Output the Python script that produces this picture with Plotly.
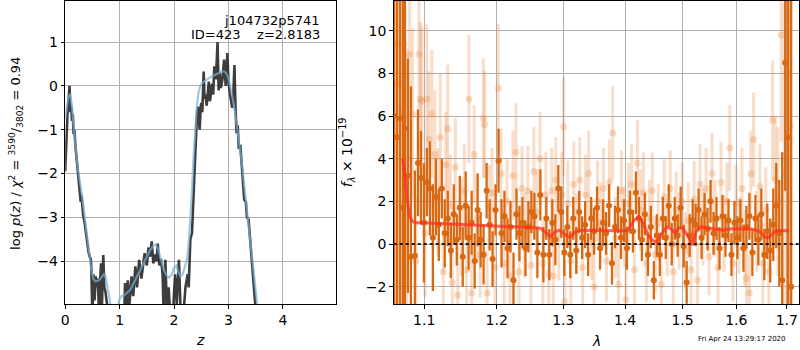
import plotly.graph_objects as go

# ---------------- left panel: p(z) ----------------
z_pz = [0.000,0.015,0.03,0.045,0.06,0.08,0.095,0.11,0.125,0.14,0.155,0.17,0.19,0.21,0.23,0.25,0.27,0.285,0.30,0.315,
        0.33,0.36,0.40,0.43,0.45,0.47,0.48,0.50,0.52,0.54,0.56,0.58,0.60,0.62,0.64,0.66,0.67,0.69,0.70,0.72,
        0.74,0.77,0.79,0.85,1.00,1.08,1.10,1.12,1.15,1.18,1.22,1.25,1.29,1.32,1.36,1.40,1.44,1.46,1.50,1.53,
        1.56,1.59,1.62,1.65,1.68,1.70,1.73,1.76,1.79,1.81,1.84,1.87,1.90,1.93,1.98,2.02,2.05,2.09,2.12,2.18,
        2.21,2.25,2.27,2.30,2.33,2.36,2.38,2.40,2.42,2.44,2.46,2.47,2.49,2.50,2.52,2.545,2.56,2.58,2.60,2.62,
        2.64,2.66,2.68,2.70,2.72,2.74,2.77,2.80,2.82,2.84,2.86,2.89,2.92,2.95,2.98,3.00,3.03,3.05,3.07,3.09,
        3.11,3.13,3.15,3.17,3.19,3.22,3.25,3.29,3.32,3.34,3.37,3.40,3.43,3.47,3.50,3.53,3.56]
logp_pz = [-1.95,-1.3,-0.92,-0.55,-0.35,0.0,-0.6,-0.45,-0.8,-0.65,-1.1,-1.0,-1.4,-1.7,-2.0,-2.2,-2.6,-2.65,-2.5,-2.8,
           -2.95,-3.15,-3.55,-3.8,-3.9,-3.95,-4.15,-5.3,-4.3,-4.9,-4.35,-4.6,-4.4,-5.2,-4.45,-4.05,-5.3,-4.2,-3.86,-4.6,
           -4.7,-5.0,-5.5,-6.0,-6.0,-5.5,-4.5,-5.3,-4.44,-5.0,-4.35,-4.8,-4.12,-4.6,-3.97,-4.4,-3.9,-3.82,-4.1,-3.69,
           -3.9,-3.55,-4.05,-3.85,-4.0,-3.6,-4.1,-3.95,-4.3,-5.2,-3.97,-5.1,-4.6,-5.2,-5.2,-4.3,-5.0,-3.97,-5.1,-5.1,
           -4.6,-4.3,-4.6,-3.5,-3.36,-2.4,-1.8,-1.07,-0.7,-0.47,-0.9,-1.0,-0.5,-0.39,-0.6,0.33,-0.3,-0.2,-0.45,-0.08,
           0.1,-0.35,-0.1,0.05,-0.2,0.45,0.15,1.0,-0.1,0.3,-0.05,0.15,0.6,0.0,0.75,0.1,-0.2,-0.4,-0.5,-0.2,
           0.48,-0.5,-1.08,-0.9,-1.4,-1.38,-2.0,-2.6,-2.65,-3.0,-3.05,-3.5,-3.81,-4.45,-5.1,-5.8,-6.5]

z_smooth = [0.0,0.03,0.06,0.09,0.12,0.15,0.18,0.21,0.24,0.27,0.29,0.31,0.34,0.37,0.40,0.44,0.48,0.52,0.56,0.60,
            0.64,0.68,0.72,0.75,0.78,0.82,0.85,0.90,0.95,0.99,1.03,1.08,1.14,1.20,1.26,1.32,1.38,1.44,1.50,1.56,
            1.62,1.66,1.70,1.74,1.78,1.82,1.86,1.91,1.96,2.00,2.04,2.08,2.12,2.16,2.20,2.24,2.27,2.30,2.33,2.36,
            2.39,2.42,2.45,2.48,2.52,2.58,2.64,2.70,2.76,2.82,2.88,2.92,2.96,3.00,3.04,3.08,3.12,3.16,3.20,3.24,
            3.28,3.32,3.36,3.40,3.44,3.48,3.52,3.56]
logp_smooth = [-0.75,-0.45,-0.25,-0.18,-0.4,-0.85,-1.3,-1.65,-1.95,-2.15,-2.3,-2.5,-2.8,-3.1,-3.45,-3.85,-4.2,-4.42,-4.46,-4.45,
               -4.42,-4.35,-4.28,-4.4,-4.62,-4.9,-5.3,-5.6,-5.2,-4.9,-4.8,-4.78,-4.72,-4.65,-4.5,-4.35,-4.2,-4.05,-3.9,-3.75,
               -3.65,-3.62,-3.7,-3.85,-4.05,-4.22,-4.32,-4.38,-4.3,-4.15,-4.1,-4.25,-4.35,-4.3,-4.15,-3.95,-3.6,-3.1,-2.4,-1.6,
               -0.95,-0.45,-0.15,0.0,0.07,0.13,0.18,0.22,0.26,0.3,0.33,0.33,0.29,0.18,-0.05,-0.3,-0.6,-0.95,-1.3,-1.7,
               -2.15,-2.6,-3.05,-3.45,-3.85,-4.35,-4.9,-5.6]

pz_xticks = [0, 1, 2, 3, 4]
pz_yticks = [-4, -3, -2, -1, 0, 1]

# ---------------- right panel: spectrum ----------------
wave_dark = [1.0606,1.0645,1.0684,1.0722,1.0748,1.0787,1.0826,1.0878,1.0918,1.0957,1.0997,1.1036,1.1076,1.1115,1.1155,1.1195,
             1.1235,1.1275,1.1316,1.1357,1.1398,1.1439,1.1480,1.1521,1.1562,1.1603,1.1645,1.1687,1.1729,1.1771,1.1813,1.1856,
             1.1899,1.1941,1.1984,1.2027,1.2070,1.2113,1.2157,1.2201,1.2245,1.2289,1.2333,1.2377,1.2422,1.2466,1.2511,1.2556,
             1.2601,1.2646,1.2692,1.2737,1.2783,1.2829,1.2876,1.2922,1.2968,1.3015,1.3062,1.3109,1.3156,1.3203,1.3250,1.3297,
             1.3345,1.3393,1.3441,1.3489,1.3537,1.3586,1.3635,1.3684,1.3733,1.3782,1.3832,1.3882,1.3932,1.3982,1.4032,1.4082,
             1.4133,1.4184,1.4235,1.4286,1.4337,1.4389,1.4440,1.4492,1.4544,1.4596,1.4649,1.4701,1.4754,1.4807,1.4860,1.4913,
             1.4967,1.5021,1.5075,1.5129,1.5183,1.5238,1.5292,1.5347,1.5402,1.5458,1.5513,1.5569,1.5625,1.5681,1.5737,1.5794,
             1.5851,1.5908,1.5965,1.6022,1.6080,1.6138,1.6196,1.6254,1.6312,1.6371,1.6430,1.6489,1.6548,1.6607,1.6666,1.6727,
             1.6787,1.6847,1.6907,1.6968,1.7029,1.7090]
flux_dark = [6.0,5.0,5.9,1.7,5.4,3.2,-0.6,-0.55,3.8,3.1,1.0,2.9,2.6,0.3,2.2,0.9,
             2.6,0.5,1.2,-0.3,1.4,0.2,1.7,-0.6,1.8,0.3,1.0,-0.8,1.6,0.2,-0.5,2.5,
             0.9,-0.7,1.6,3.9,0.5,1.3,-0.2,0.8,-1.7,1.4,0.5,1.0,-0.2,0.8,1.5,1.3,
             -0.4,2.3,-0.5,1.2,-0.5,1.0,0.2,2.6,1.5,-0.4,0.8,-0.5,1.2,-0.3,1.5,0.3,
             0.9,-0.5,1.2,0.6,1.7,-0.2,1.0,0.5,1.8,-0.9,0.8,1.6,0.3,1.1,-0.2,1.5,
             0.6,2.4,1.2,0.2,1.4,-0.5,0.8,-1.7,0.4,-0.5,1.2,0.3,1.8,0.0,1.2,0.4,
             1.7,-0.1,-1.8,0.4,1.1,0.9,1.6,0.3,1.4,0.7,2.0,0.5,1.2,-0.2,1.3,0.4,
             1.1,-0.5,1.0,0.3,1.1,-0.2,0.8,1.3,-0.4,1.2,0.2,1.4,-0.5,0.6,-0.3,0.9,
             1.8,0.5,-1.7,8.5,5.0,-2.0]
err_dark = [40,40,30,25,14,5.5,8,4,2.5,2.2,2.8,1.6,2.2,2.5,1.8,1.7,
            1.4,1.6,1.3,1.3,1.4,1.2,1.5,1.4,1.6,1.5,1.5,1.3,1.7,1.3,1.4,1.3,
            1.2,1.3,1.2,1.5,1.6,1.2,1.4,1.2,1.3,1.2,1.3,1.2,1.3,1.2,1.0,1.1,
            1.2,1.2,1.3,1.0,1.2,1.1,1.2,1.1,1.2,1.1,1.0,1.1,1.0,1.1,1.0,1.0,
            1.1,1.0,1.0,1.1,1.0,1.0,1.1,1.0,1.0,1.0,1.0,1.1,1.0,1.0,1.0,1.0,
            1.0,1.0,1.0,1.0,1.0,1.0,1.0,0.9,1.0,1.0,1.0,1.0,1.0,1.0,1.0,1.0,
            1.0,1.0,1.0,1.0,1.0,1.0,1.0,1.0,1.0,1.0,1.0,1.0,1.0,1.0,1.0,1.0,
            1.0,1.0,1.0,1.0,1.0,1.1,1.0,1.1,1.1,1.1,1.2,1.2,1.2,1.3,1.5,1.7,
            2.0,2.5,6.0,6.0,30,30]

wave_light = [1.0626,1.0664,1.0703,1.0735,1.0774,1.0807,1.0846,1.0891,1.0931,1.0950,1.0970,1.1010,1.1036,1.1062,1.1102,1.1142,
              1.1182,1.1215,1.1255,1.1288,1.1316,1.1350,1.1377,1.1419,1.1452,1.1500,1.1542,1.1575,1.1607,1.1645,1.1680,1.1722,
              1.1764,1.1809,1.1827,1.1863,1.1892,1.1934,1.1977,1.2023,1.2063,1.2106,1.2150,1.2194,1.2238,1.2282,1.2326,1.2370,
              1.2414,1.2459,1.2504,1.2549,1.2594,1.2639,1.2684,1.2730,1.2775,1.2821,1.2845,1.2883,1.2929,1.2975,1.3004,1.3023,
              1.3070,1.3117,1.3164,1.3211,1.3258,1.3305,1.3353,1.3401,1.3449,1.3489,1.3545,1.3594,1.3643,1.3692,1.3741,1.3794,
              1.3840,1.3890,1.3940,1.3990,1.4015,1.4057,1.4108,1.4159,1.4210,1.4261,1.4312,1.4363,1.4414,1.4466,1.4518,1.4570,
              1.4622,1.4675,1.4728,1.4781,1.4834,1.4887,1.4940,1.4994,1.5048,1.5102,1.5156,1.5210,1.5274,1.5320,1.5375,1.5430,
              1.5485,1.5541,1.5597,1.5653,1.5709,1.5766,1.5822,1.5876,1.5937,1.5994,1.6051,1.6109,1.6167,1.6196,1.6254,1.6283,
              1.6337,1.6400,1.6460,1.6518,1.6577,1.6637,1.6713,1.6766,1.6817,1.6887,1.6948,1.7009,1.7069]
flux_light = [9.4,7.5,6.2,9.4,3.2,8.9,6.1,-0.8,8.9,6.8,6.7,0.5,6.8,4.9,6.1,4.2,
              2.0,5.0,-1.3,3.7,5.4,1.8,-1.8,3.6,-2.4,0.8,2.5,-1.2,6.8,-2.3,4.2,1.2,
              -0.5,5.9,5.6,-2.3,1.7,2.4,-1.1,7.3,3.3,-0.9,2.0,-1.5,3.2,4.3,-1.3,2.6,
              0.4,2.5,-1.0,3.4,1.5,4.0,-0.9,2.3,-1.4,2.5,-1.5,3.0,0.3,2.3,5.5,-2.7,
              1.9,-0.8,2.8,0.5,3.0,-1.1,2.3,3.3,0.2,-2.0,2.0,1.0,2.6,-0.8,2.9,5.2,
              0.3,-1.9,2.5,0.8,-2.6,1.9,2.8,-1.2,3.8,1.6,2.4,-0.9,1.2,2.5,-0.5,1.0,
              -1.9,2.2,0.3,2.6,-1.3,1.6,0.6,2.0,-0.3,1.1,-1.2,2.1,-1.7,2.8,0.8,2.6,
              -0.6,3.3,1.2,-1.1,2.9,0.5,2.0,4.5,-0.9,1.9,0.4,2.6,-0.2,-1.6,-2.3,3.3,
              4.9,0.6,2.7,-0.9,1.6,-1.3,5.8,3.0,2.0,9.8,3.3,8.0,5.5]
err_light = [25,25,12,8,6,5,4,3,3,3.6,3.5,3,3.5,3.2,3,3,
             2.5,3,2.5,2.5,3,2.4,2.2,2.3,2.2,2.3,2.2,2.0,3,2.0,2.3,2.1,
             2.0,2.8,2.5,2.0,2.0,2.1,2.0,3,2.1,2.0,2.0,2.0,2.1,2.3,2.0,2.0,
             2.0,2.1,2.0,2.1,2.0,2.2,2.0,2.0,2.0,2.0,1.9,2.0,2.0,2.0,2.3,1.9,
             2.0,2.0,2.0,1.9,2.0,1.9,1.9,2.0,1.9,1.9,1.9,1.9,1.9,1.9,2.0,2.2,
             1.9,1.9,1.9,1.9,1.8,1.9,1.9,1.8,2.0,1.9,1.9,1.8,1.8,1.8,1.8,1.8,
             1.8,1.8,1.8,1.8,1.8,1.8,1.8,1.8,1.8,1.8,1.8,1.8,1.8,1.9,1.8,1.9,
             1.8,1.9,1.8,1.8,1.9,1.8,1.8,2.0,1.8,1.8,1.8,1.9,1.8,1.8,1.8,2.0,
             2.2,1.9,2.0,1.9,2.0,2.1,2.8,3,3.5,5,8,15,20]

wave_model = [1.072,1.075,1.078,1.081,1.085,1.09,1.10,1.15,1.20,1.25,1.265,1.272,1.28,1.287,1.293,1.30,1.31,1.318,1.325,
              1.35,1.38,1.40,1.405,1.415,1.423,1.43,1.44,1.448,1.455,1.463,1.472,1.48,1.487,1.493,1.50,1.507,1.512,1.518,
              1.525,1.532,1.55,1.565,1.575,1.59,1.61,1.63,1.645,1.655,1.662,1.67,1.678,1.69,1.703]
flux_model = [4.0,3.2,2.0,1.3,1.05,1.0,1.0,0.93,0.83,0.77,0.74,0.55,0.35,0.55,0.65,0.5,0.3,0.55,0.65,
              0.63,0.62,0.62,0.65,1.1,1.3,1.0,0.4,0.15,0.1,0.5,0.8,0.7,0.5,0.75,0.75,0.45,0.3,-0.05,
              0.6,0.8,0.75,0.68,0.65,0.72,0.72,0.7,0.6,0.35,0.28,0.45,0.62,0.63,0.62]

spec_xticks = [1.1, 1.2, 1.3, 1.4, 1.5, 1.6, 1.7]
spec_yticks = [-2, 0, 2, 4, 6, 8, 10]

obj_name = "j104732p5741"
obj_id = 423
z_best = 2.8183
timestamp = "Fri Apr 24 13:29:17 2020"

# ---------------- figure ----------------
W, H = 800, 350
FONT = "DejaVu Sans"
DARK = "rgb(217,104,18)"
LIGHT = "rgba(232,130,55,0.27)"

fig = go.Figure()

fig.add_trace(go.Scatter(x=z_pz, y=logp_pz, mode="lines", xaxis="x", yaxis="y",
                         line=dict(color="rgba(40,40,40,0.9)", width=2.6), showlegend=False))
fig.add_trace(go.Scatter(x=z_smooth, y=logp_smooth, mode="lines", xaxis="x", yaxis="y",
                         line=dict(color="rgba(120,175,215,0.7)", width=2.2), showlegend=False))

fig.add_trace(go.Scatter(x=wave_light, y=flux_light, mode="markers", xaxis="x2", yaxis="y2",
                         marker=dict(color=LIGHT, size=7, line=dict(width=0)),
                         error_y=dict(type="data", array=err_light, visible=True, color=LIGHT,
                                      thickness=3, width=0),
                         showlegend=False))
fig.add_trace(go.Scatter(x=wave_dark, y=flux_dark, mode="markers", xaxis="x2", yaxis="y2",
                         marker=dict(color=DARK, size=6, line=dict(width=0)),
                         error_y=dict(type="data", array=err_dark, visible=True, color=DARK,
                                      thickness=2.3, width=0),
                         showlegend=False))
fig.add_trace(go.Scatter(x=wave_model, y=flux_model, mode="lines", xaxis="x2", yaxis="y2",
                         line=dict(color="rgba(255,45,30,0.72)", width=3), showlegend=False))
fig.add_trace(go.Scatter(x=[1.0605, 1.7253], y=[0, 0], mode="lines", xaxis="x2", yaxis="y2",
                         line=dict(color="rgba(0,0,0,0.85)", width=2, dash="dot"), showlegend=False))

ax_common = dict(showline=True, linecolor="black", linewidth=1, mirror=True,
                 ticks="outside", ticklen=3.5, tickwidth=1, tickcolor="black",
                 showgrid=True, gridcolor="#b0b0b0", gridwidth=1, zeroline=False,
                 tickfont=dict(family=FONT, size=14, color="black"))

ytop, ybot = 1 - 1 / H, 1 - 304 / H
fig.update_layout(
    width=W, height=H, margin=dict(l=0, r=0, t=0, b=0, pad=0),
    paper_bgcolor="white", plot_bgcolor="white",
    xaxis=dict(domain=[61.5 / W, 333.3 / W], range=[0, 4.97], tickvals=pz_xticks, anchor="y", **ax_common),
    yaxis=dict(domain=[ybot, ytop], range=[-4.98, 1.94], tickvals=pz_yticks, anchor="x", **ax_common),
    xaxis2=dict(domain=[391.7 / W, 799 / W], type="log", range=[0.02551, 0.23683],
                tickvals=spec_xticks, ticktext=[f"{v:.1f}" for v in spec_xticks], anchor="y2", **ax_common),
    yaxis2=dict(domain=[ybot, ytop], range=[-2.81, 11.39], tickvals=spec_yticks, anchor="x2", **ax_common),
)

ann = []
def txt(x, y, s, size=13, xanchor="center", yanchor="middle", angle=0):
    ann.append(dict(x=x / W, y=1 - y / H, xref="paper", yref="paper", text=s, showarrow=False,
                    xanchor=xanchor, yanchor=yanchor, textangle=angle,
                    font=dict(family=FONT, size=size, color="black")))

txt(320, 20, obj_name, size=13, xanchor="right")
txt(320, 35, f"ID={obj_id}&nbsp;&nbsp;&nbsp;&nbsp;z={z_best:.4f}", size=13, xanchor="right")
txt(197, 340, "<i>z</i>", size=14)
txt(595, 341, "<i>λ</i>", size=14)
txt(12, 153, "log <i>p</i>(<i>z</i>) / <i>χ</i><sup>2</sup> = <sup>3590</sup>/<sub>3802</sub> = 0.94", size=13, angle=-90)
txt(345, 152, "<i>f</i><sub><i>λ</i></sub> × 10<sup>−19</sup>", size=14, angle=-90)
txt(788, 339, timestamp, size=7, xanchor="right")
fig.update_layout(annotations=ann)

fig.write_html("out.html", config={"displayModeBar": False},
               post_script="document.body.style.margin='0';document.body.style.padding='0';")
